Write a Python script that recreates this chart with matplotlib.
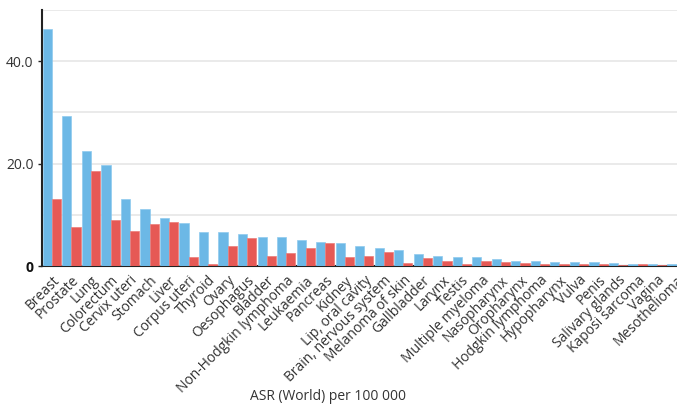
import matplotlib
matplotlib.use("Agg")
import matplotlib.pyplot as plt
import matplotlib.transforms as mtransforms
import numpy as np

# Cancer sites, ordered by incidence
sites = [
    "Breast", "Prostate", "Lung", "Colorectum", "Cervix uteri", "Stomach",
    "Liver", "Corpus uteri", "Thyroid", "Ovary", "Oesophagus", "Bladder",
    "Non-Hodgkin lymphoma", "Leukaemia", "Pancreas", "Kidney",
    "Lip, oral cavity", "Brain, nervous system", "Melanoma of skin",
    "Gallbladder", "Larynx", "Testis", "Multiple myeloma", "Nasopharynx",
    "Oropharynx", "Hodgkin lymphoma", "Hypopharynx", "Vulva", "Penis",
    "Salivary glands", "Kaposi sarcoma", "Vagina", "Mesothelioma",
]

# Age-standardised rates (World) per 100 000
incidence = [
    46.3, 29.3, 22.5, 19.7, 13.1, 11.1, 9.3, 8.4, 6.7, 6.6, 6.3, 5.6,
    5.6, 5.1, 4.7, 4.5, 4.0, 3.5, 3.1, 2.3, 2.0, 1.7, 1.7, 1.4,
    1.0, 0.9, 0.85, 0.8, 0.7, 0.5, 0.45, 0.4, 0.35,
]
mortality = [
    13.1, 7.6, 18.6, 8.9, 6.9, 8.2, 8.6, 1.8, 0.45, 3.9, 5.4, 1.9,
    2.6, 3.5, 4.4, 1.8, 2.0, 2.8, 0.65, 1.6, 1.0, 0.3, 1.0, 0.8,
    0.5, 0.35, 0.35, 0.3, 0.3, 0.2, 0.3, 0.15, 0.25,
]

blue = "#6cb8e6"
red = "#e65955"

plt.rcParams["font.family"] = ["Open Sans", "DejaVu Sans"]

W, H = 677, 409
fig = plt.figure(figsize=(W / 100, H / 100), dpi=100)

# The plot area runs past the right edge of the figure, so the last bar pair
# is partly cropped.
x0, x1 = -0.51, 32.5
px_per_unit = 19.52
left_px, bottom_px, top_px = 42, 266, 10
ax = fig.add_axes([
    left_px / W,
    (H - bottom_px) / H,
    (x1 - x0) * px_per_unit / W,
    (bottom_px - top_px) / H,
])

x = np.arange(len(sites))
bw = 0.47
ax.bar(x - bw / 2, incidence, width=bw, color=blue, edgecolor="#8fcaee",
       linewidth=0.5, zorder=3)
ax.bar(x + bw / 2, mortality, width=bw, color=red, edgecolor="#ec7d79",
       linewidth=0.5, zorder=3)

ax.set_xlim(x0, x1)
ax.set_ylim(0, 50)

# Gridlines every 10, labels every 20
ax.set_yticks([0, 20, 40])
ax.set_yticks([10, 30, 50], minor=True)
ax.set_yticklabels(["0", "20.0", "40.0"], fontsize=10, color="#333333")
ylabels = ax.get_yticklabels()
ylabels[0].set_fontweight("bold")
ylabels[0].set_color("#111111")
shift = mtransforms.ScaledTranslation(0, -4 / 100, fig.dpi_scale_trans)
for lbl in ylabels:
    lbl.set_transform(lbl.get_transform() + shift)
ax.grid(axis="y", which="both", color="#e6e6e6", linewidth=1.2, zorder=0)
ax.tick_params(axis="y", which="major", length=3, width=1, color="#222222",
               pad=3)
ax.tick_params(axis="y", which="minor", length=0)

ax.set_xticks(x)
ax.set_xticklabels(sites, rotation=45, ha="right", rotation_mode="anchor",
                   fontsize=10, color="#333333")
ax.tick_params(axis="x", length=0, pad=5)

for s in ("top", "right"):
    ax.spines[s].set_visible(False)
ax.spines["left"].set_color("#222222")
ax.spines["left"].set_linewidth(1.5)
ax.spines["bottom"].set_color("#222222")
ax.spines["bottom"].set_linewidth(1.5)

fig.text(328 / W, 1 - 397 / H, "ASR (World) per 100 000", ha="center",
         va="center", fontsize=10, color="#333333")

fig.savefig("out.png", dpi=100)
